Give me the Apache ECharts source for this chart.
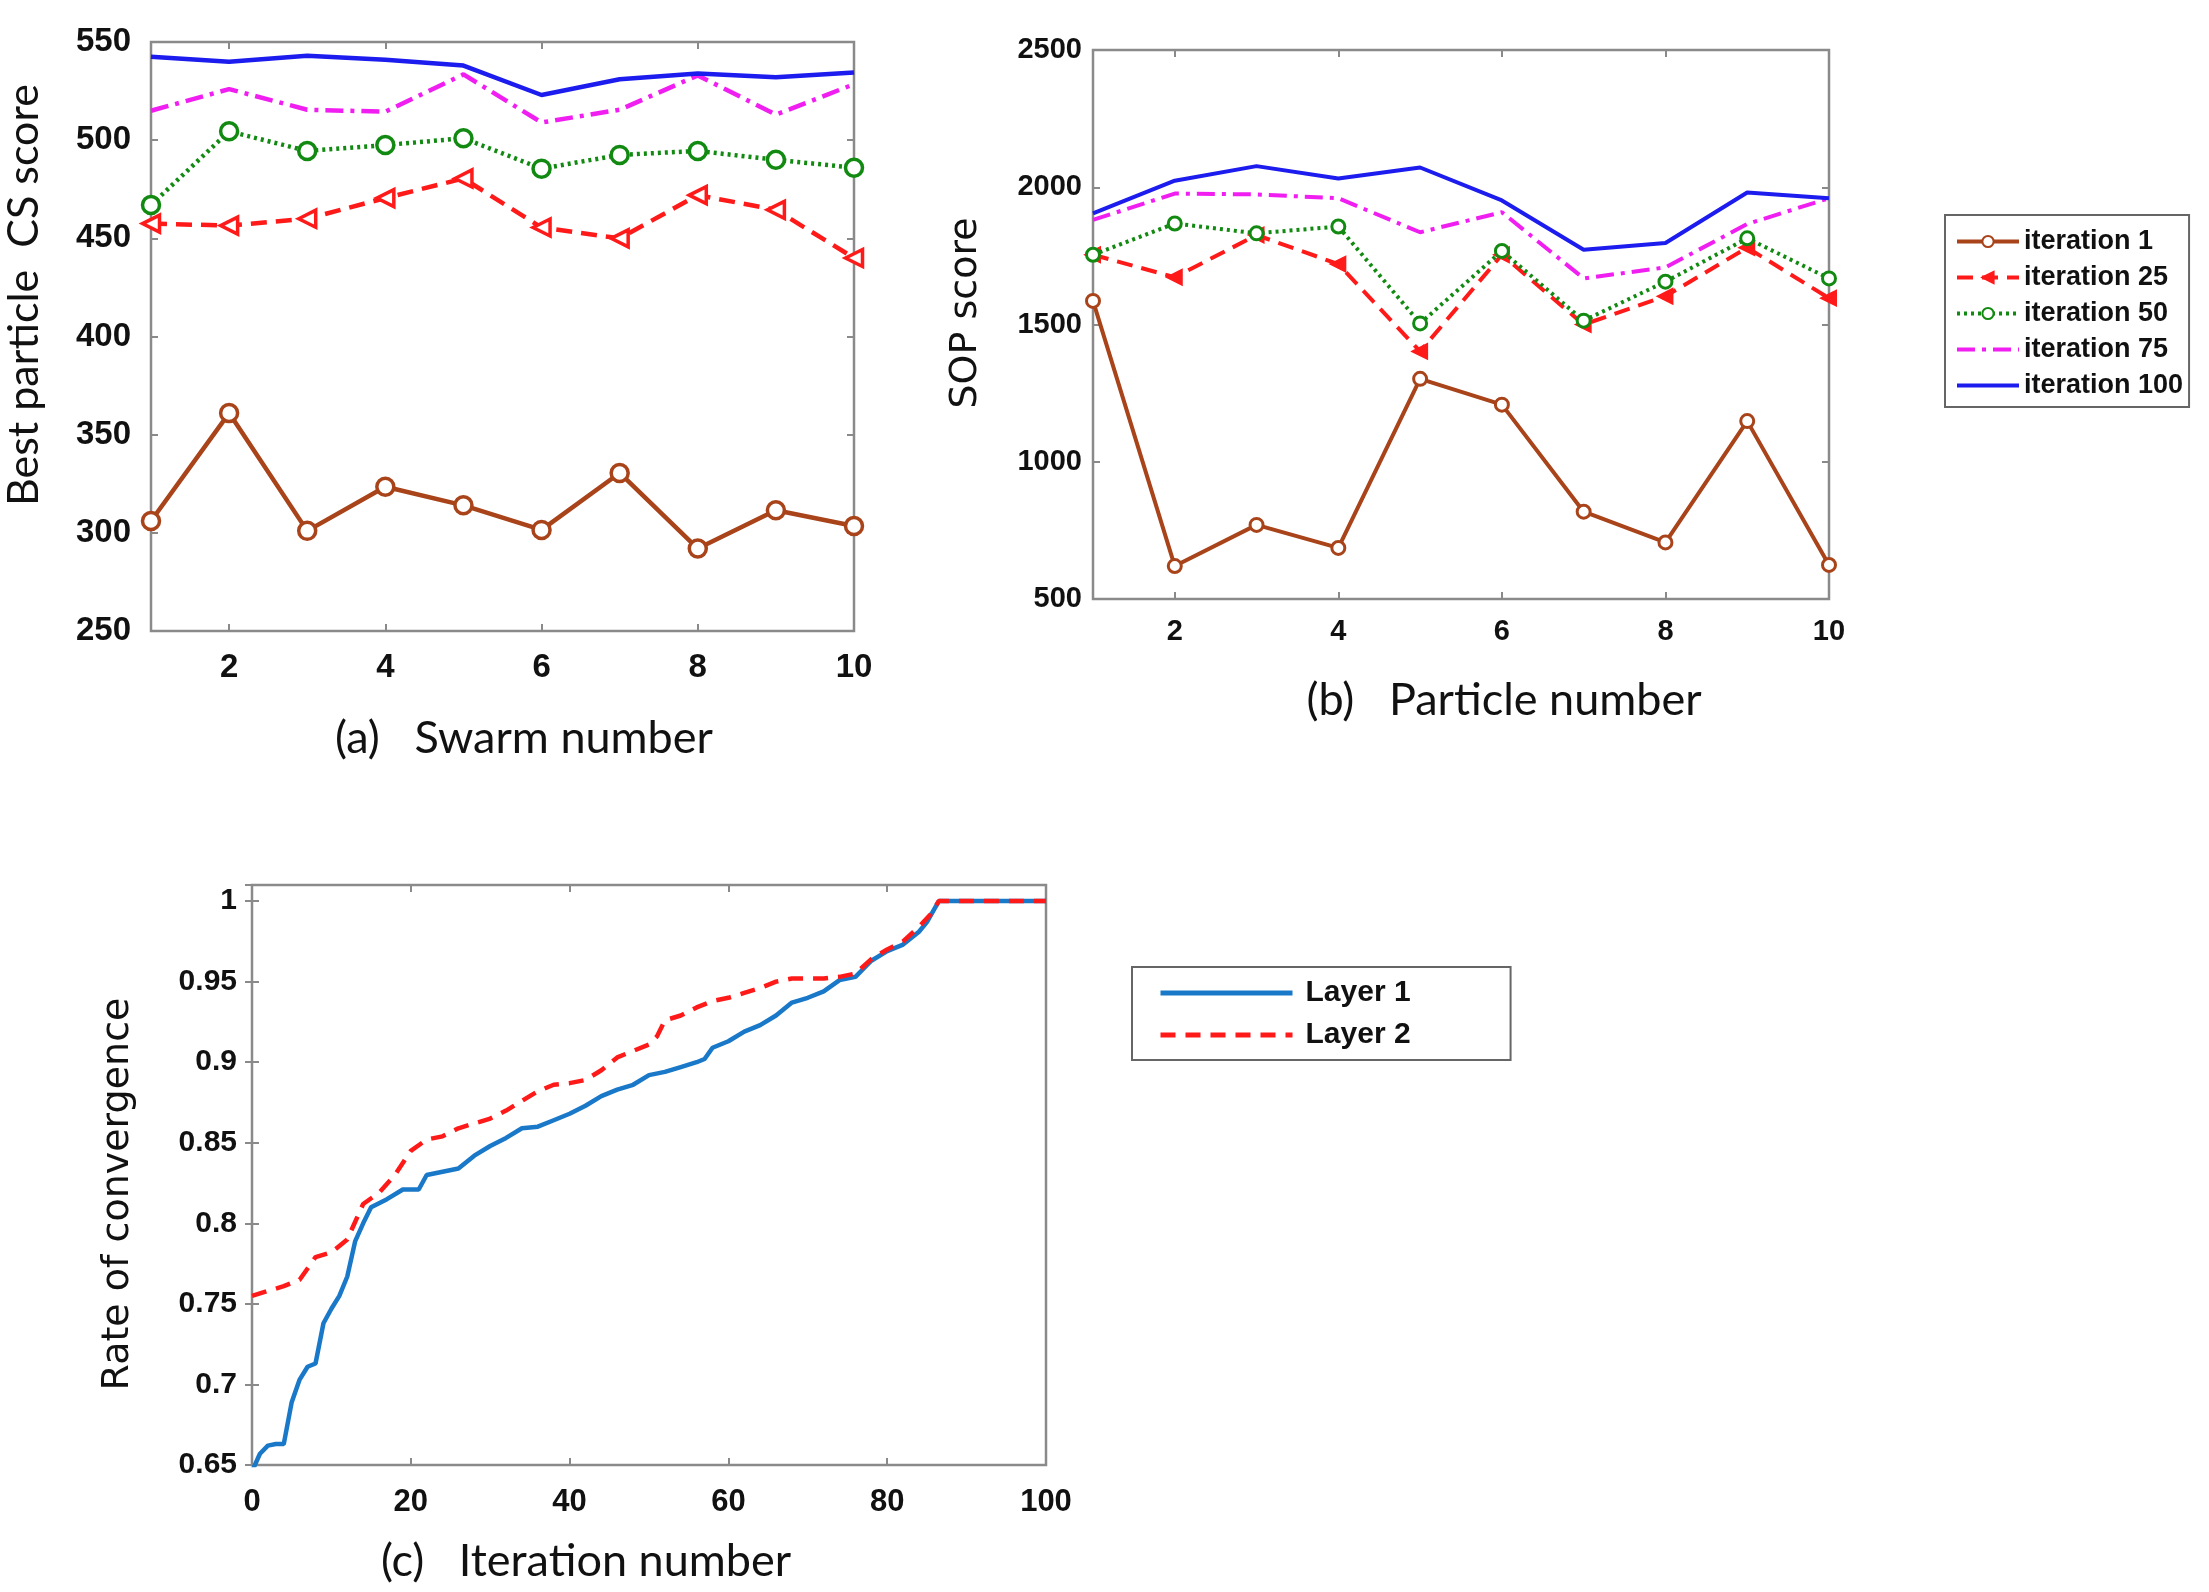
<!DOCTYPE html>
<html><head><meta charset="utf-8">
<script src="https://cdn.jsdelivr.net/npm/echarts@6/dist/echarts.min.js"></script>
<style>html,body{margin:0;padding:0;background:#fff;}#c{width:2209px;height:1592px;}</style>
</head><body><div id="c"></div>
<script>
// ---- data ----
const swarmNumbers = ['1','2','3','4','5','6','7','8','9','10'];
const particleNumbers = ['1','2','3','4','5','6','7','8','9','10'];
const iterationNames = ['iteration 1','iteration 25','iteration 50','iteration 75','iteration 100'];

// (a) Best particle CS score vs swarm number
const csIter1   = [306, 361, 301, 323.5, 314, 301.5, 330.5, 292, 311.5, 303.5];
const csIter25  = [457.5, 456.5, 460, 470.5, 480.5, 455.5, 450, 472, 464.5, 440];
const csIter50  = [467, 504.5, 494.5, 497.5, 501, 485.5, 492.5, 494.5, 490, 486];
const csIter75  = [515, 526, 515.5, 514.5, 533.5, 509, 515.5, 533, 513, 528.5];
const csIter100 = [542.5, 540, 543, 541, 538, 523, 531, 534, 532, 534.5];

// (b) SOP score vs particle number
const sopIter1   = [1586, 620, 770, 686, 1302, 1208, 818, 706, 1148, 624];
const sopIter25  = [1754, 1672, 1826, 1720, 1402, 1754, 1500, 1603, 1780, 1596];
const sopIter50  = [1754, 1868, 1832, 1857, 1504, 1768, 1514, 1656, 1814, 1668];
const sopIter75  = [1881, 1977, 1974, 1960, 1836, 1909, 1668, 1708, 1866, 1960];
const sopIter100 = [1905, 2024, 2077, 2032, 2072, 1952, 1772, 1797, 1981, 1960];

// (c) Rate of convergence vs iteration number
const layer1X = [0,1,2,3,4,5,6,7,8,9,10,11,12,13,14,15,17,19,21,22,24,26,28,30,32,34,36,38,40,42,44,46,48,50,52,54,56,57,58,60,62,64,66,68,70,72,74,76,78,80,82,84,85,86.5,100];
const layer1Y = [0.646,0.657,0.662,0.663,0.663,0.689,0.703,0.711,0.713,0.738,0.747,0.755,0.767,0.789,0.800,0.810,0.815,0.821,0.821,0.830,0.832,0.834,0.842,0.848,0.853,0.859,0.860,0.864,0.868,0.873,0.879,0.883,0.886,0.892,0.894,0.897,0.900,0.902,0.909,0.913,0.919,0.923,0.929,0.937,0.940,0.944,0.951,0.953,0.963,0.969,0.973,0.981,0.987,1.0,1.0];
const layer2X = [0,2,4,6,7,8,10,12,13,14,16,18,20,22,24,26,28,30,32,34,36,38,40,42,44,46,48,50,51,52,54,56,58,60,62,64,66,68,70,72,74,76,78,80,82,84,85.5,86.5,100];
const layer2Y = [0.755,0.758,0.761,0.765,0.772,0.779,0.782,0.790,0.801,0.812,0.819,0.830,0.845,0.852,0.854,0.859,0.862,0.865,0.870,0.876,0.882,0.886,0.887,0.889,0.895,0.903,0.907,0.911,0.916,0.926,0.929,0.934,0.938,0.940,0.943,0.946,0.950,0.952,0.952,0.952,0.953,0.955,0.964,0.970,0.975,0.984,0.992,1.0,1.0];
const layerNames = ['Layer 1','Layer 2'];

const yTicksA = {min:250, max:550, interval:50};
const yTicksB = {min:500, max:2500, interval:500};
const xTicksC = {min:0, max:100, interval:20};
const yTicksC = {min:0.65, max:1.01, interval:0.05};

// ---- styles ----
const BROWN='#a8431a', RED='#ff1a1a', GREEN='#128a12', MAGENTA='#f01ef0', BLUE='#1c1cee';
const L1='#1a78c8', L2='#ff1a1a';
const FRAME='#8a8a8a';
const tickFont = 'Liberation Sans';

const iterStyles = [
  {color:BROWN, type:'solid', symbol:'circle', rot:0, fill:'#fff', filledB:false},
  {color:RED, type:[16,9], symbol:'triangle', rot:90, fill:'#fff', filledB:true},
  {color:GREEN, type:[3,4], symbol:'circle', rot:0, fill:'#fff', filledB:false},
  {color:MAGENTA, type:[18,7,4,7], symbol:'none', rot:0},
  {color:BLUE, type:'solid', symbol:'none', rot:0}
];

function iterSeries(name, data, idx, st, panel){
  const isB = panel === 1;
  return {
    type:'line', name:name, xAxisIndex:panel, yAxisIndex:panel, data:data,
    symbol: st.symbol, symbolSize: isB ? 13 : 17, symbolRotate: st.rot,
    showSymbol: st.symbol !== 'none',
    lineStyle:{color:st.color, width: isB ? 4 : 4.5, type:st.type},
    itemStyle:{color: (isB && st.filledB) ? st.color : (st.fill || st.color), borderColor:st.color, borderWidth: isB ? 3 : 3.5},
    emphasis:{disabled:true}, animation:false, z: 2 + idx
  };
}

const seriesB = [sopIter1, sopIter25, sopIter50, sopIter75, sopIter100].map((d,i)=>iterSeries(iterationNames[i], d, i, iterStyles[i], 1));
const seriesA = [csIter1, csIter25, csIter50, csIter75, csIter100].map((d,i)=>iterSeries(iterationNames[i], d, i, iterStyles[i], 0));
const seriesC = [
  {type:'line', name:layerNames[0], xAxisIndex:2, yAxisIndex:2, data: layer1X.map((x,i)=>[x, layer1Y[i]]),
   symbol:'none', lineStyle:{color:L1, width:4.5, type:'solid'}, itemStyle:{color:L1}, animation:false, z:2},
  {type:'line', name:layerNames[1], xAxisIndex:2, yAxisIndex:2, data: layer2X.map((x,i)=>[x, layer2Y[i]]),
   symbol:'none', lineStyle:{color:L2, width:4.5, type:[15,10]}, itemStyle:{color:L2}, animation:false, z:3}
];

const evenOnly = function(idx){ return idx % 2 === 1; };
function catX(gi, data, fs, margin, pos){
  return {type:'category', gridIndex:gi, data:data, boundaryGap:false, position:pos||'bottom',
    axisLine:{show:false},
    axisTick:{show:true, inside:true, length:7, interval:evenOnly, lineStyle:{color:FRAME, width:2}},
    axisLabel:{show: !pos, interval:evenOnly, margin:margin, fontFamily:tickFont, fontWeight:'bold', fontSize:fs, color:'#111'},
    splitLine:{show:false}};
}
function valAxis(gi, ticks, fs, margin, pos){
  return {type:'value', gridIndex:gi, min:ticks.min, max:ticks.max, interval:ticks.interval, position:pos,
    axisLine:{show:false},
    axisTick:{show:true, inside:true, length:7, lineStyle:{color:FRAME, width:2}},
    axisLabel:{show: !(pos==='top'||pos==='right'), showMaxLabel: ticks.max !== 1.01, margin:margin,
      fontFamily:tickFont, fontWeight:'bold', fontSize:fs, color:'#111',
      formatter: function(v){ return String(+v.toFixed(4)); }},
    splitLine:{show:false}};
}

function txt(text, x, y, font, rot){
  return {type:'text', x:x, y:y, rotation: rot||0, silent:true,
    style:{text:text, font:font, fill:'#111', align:'center', verticalAlign:'middle', textAlign:'center', textVerticalAlign:'middle'}};
}

const noMarker = {opacity:0};
const option = {
  backgroundColor:'#fff',
  animation:false,
  grid:[
    {left:151, top:42, width:703, height:589, show:true, borderColor:FRAME, borderWidth:2.5, backgroundColor:'#fff'},
    {left:1093, top:50, width:736, height:549, show:true, borderColor:FRAME, borderWidth:2.5, backgroundColor:'#fff'},
    {left:252, top:885, width:794, height:580, show:true, borderColor:FRAME, borderWidth:2.5, backgroundColor:'#fff'}
  ],
  xAxis:[
    catX(0, swarmNumbers, 33, 20),
    catX(1, particleNumbers, 29, 18),
    valAxis(2, xTicksC, 31, 22, 'bottom'),
    catX(0, swarmNumbers, 33, 20, 'top'),
    catX(1, particleNumbers, 29, 18, 'top'),
    valAxis(2, xTicksC, 31, 22, 'top')
  ],
  yAxis:[
    valAxis(0, yTicksA, 33, 20, 'left'),
    valAxis(1, yTicksB, 29, 11, 'left'),
    valAxis(2, yTicksC, 30, 15, 'left'),
    valAxis(0, yTicksA, 33, 20, 'right'),
    valAxis(1, yTicksB, 29, 11, 'right'),
    valAxis(2, yTicksC, 30, 15, 'right')
  ],
  legend:[
    {data:iterationNames.map((n,i)=> i>=3 ? {name:n, itemStyle:noMarker} : {name:n}),
     orient:'vertical', left:1945, top:215, selectedMode:false,
     itemWidth:62, itemHeight:14, itemGap:9, padding:[13,6,8,10],
     lineStyle:{width:4},
     borderColor:'#666', borderWidth:2, backgroundColor:'#fff',
     textStyle:{fontFamily:tickFont, fontWeight:'bold', fontSize:27, color:'#111'}},
    {data:layerNames.map(n=>({name:n, itemStyle:noMarker})),
     orient:'vertical', left:1132, top:967, selectedMode:false,
     itemWidth:132, itemHeight:14, itemGap:12, padding:[11,100,10,26],
     lineStyle:{width:5},
     borderColor:'#666', borderWidth:2, backgroundColor:'#fff',
     textStyle:{fontFamily:tickFont, fontWeight:'bold', fontSize:30, color:'#111', padding:[0,0,0,8]}}
  ],
  graphic:{elements:[
    txt('(a)   Swarm number', 524, 738, '45px Lato'),
    txt('Best particle  CS score', 24, 295, '43px Lato', Math.PI/2),
    txt('(b)   Particle number', 1504, 700, '45px Lato'),
    txt('SOP score', 966, 313, '38px "DejaVu Sans"', Math.PI/2),
    txt('(c)   Iteration number', 586, 1561, '45px Lato'),
    txt('Rate of convergence', 118, 1194, '38px "DejaVu Sans"', Math.PI/2)
  ]},
  series: seriesB.concat(seriesA, seriesC)
};

const chart = echarts.init(document.getElementById('c'), null, {renderer:'canvas'});
chart.setOption(option);
</script>
</body></html>
